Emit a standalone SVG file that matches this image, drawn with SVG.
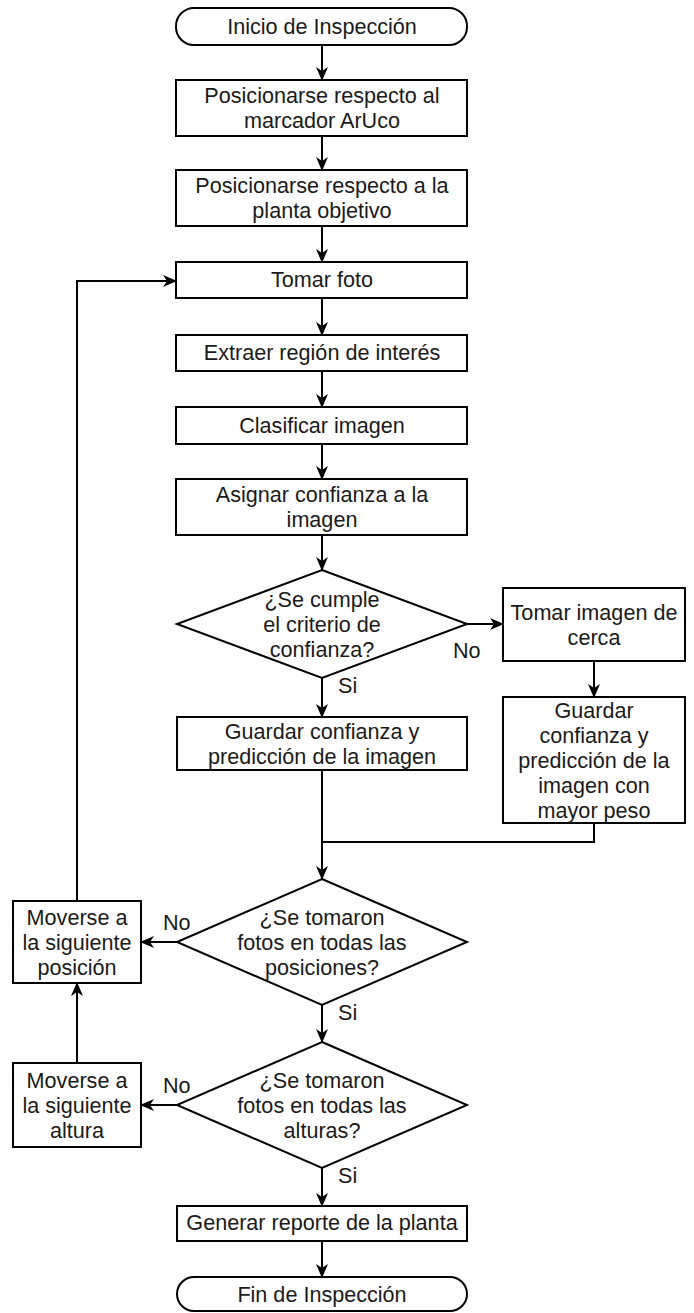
<svg xmlns="http://www.w3.org/2000/svg" width="694" height="1313" viewBox="0 0 694 1313">
<defs>
<style>
.n{fill:#fff;stroke:#000;stroke-width:2}
.t{font-family:"Liberation Sans",Arial,sans-serif;font-size:21.6px;fill:#1a1a1a;text-anchor:middle}
.l{font-family:"Liberation Sans",Arial,sans-serif;font-size:21.6px;fill:#1a1a1a;text-anchor:start}
.c{fill:none;stroke:#000;stroke-width:2}
</style>
<marker id="ah" viewBox="0 0 14 12" refX="13" refY="6" markerWidth="14" markerHeight="12" markerUnits="userSpaceOnUse" orient="auto">
<path d="M0,0 L14,6 L0,12 L4,6 Z" fill="#000"/>
</marker>
</defs>
<rect width="694" height="1313" fill="#fff"/>
<g id="connectors">
<line class="c" x1="322" y1="45" x2="322" y2="80" marker-end="url(#ah)"/>
<line class="c" x1="322" y1="136" x2="322" y2="170" marker-end="url(#ah)"/>
<line class="c" x1="322" y1="226" x2="322" y2="262" marker-end="url(#ah)"/>
<line class="c" x1="322" y1="298" x2="322" y2="335" marker-end="url(#ah)"/>
<line class="c" x1="322" y1="371" x2="322" y2="407" marker-end="url(#ah)"/>
<line class="c" x1="322" y1="444" x2="322" y2="479" marker-end="url(#ah)"/>
<line class="c" x1="322" y1="535" x2="322" y2="570" marker-end="url(#ah)"/>
<line class="c" x1="467" y1="624" x2="503" y2="624" marker-end="url(#ah)"/>
<line class="c" x1="322" y1="678" x2="322" y2="717" marker-end="url(#ah)"/>
<line class="c" x1="594" y1="661" x2="594" y2="697" marker-end="url(#ah)"/>
<line class="c" x1="322" y1="770" x2="322" y2="879" marker-end="url(#ah)"/>
<polyline class="c" points="594,823 594,842 322,842"/>
<line class="c" x1="177" y1="942" x2="141" y2="942" marker-end="url(#ah)"/>
<polyline class="c" points="77,901 77,281 176,281" marker-end="url(#ah)"/>
<line class="c" x1="322" y1="1005" x2="322" y2="1042" marker-end="url(#ah)"/>
<line class="c" x1="177" y1="1105" x2="141" y2="1105" marker-end="url(#ah)"/>
<line class="c" x1="77" y1="1063" x2="77" y2="983" marker-end="url(#ah)"/>
<line class="c" x1="322" y1="1168" x2="322" y2="1206" marker-end="url(#ah)"/>
<line class="c" x1="322" y1="1241" x2="322" y2="1277" marker-end="url(#ah)"/>
<text class="l" x="453" y="658">No</text>
<text class="l" x="338" y="693">Si</text>
<text class="l" x="163" y="930">No</text>
<text class="l" x="338" y="1020">Si</text>
<text class="l" x="163" y="1093">No</text>
<text class="l" x="338" y="1183">Si</text>
</g>
<g id="start"><rect class="n" x="176" y="8" width="291" height="37" rx="18"/><text class="t" x="322" y="34">Inicio de Inspección</text></g>
<g id="aruco"><rect class="n" x="176" y="80" width="291" height="56"/><text class="t" x="322" y="103">Posicionarse respecto al</text><text class="t" x="322" y="128">marcador ArUco</text></g>
<g id="planta"><rect class="n" x="176" y="170" width="291" height="56"/><text class="t" x="322" y="193">Posicionarse respecto a la</text><text class="t" x="322" y="218">planta objetivo</text></g>
<g id="foto"><rect class="n" x="176" y="262" width="291" height="36"/><text class="t" x="322" y="287">Tomar foto</text></g>
<g id="roi"><rect class="n" x="176" y="335" width="291" height="36"/><text class="t" x="322" y="360">Extraer región de interés</text></g>
<g id="clasificar"><rect class="n" x="176" y="407" width="291" height="37"/><text class="t" x="322" y="432.5">Clasificar imagen</text></g>
<g id="asignar"><rect class="n" x="176" y="479" width="291" height="56"/><text class="t" x="322" y="502">Asignar confianza a la</text><text class="t" x="322" y="527">imagen</text></g>
<g id="criterio"><polygon class="n" points="322,570 467,624 322,678 177,624"/><text class="t" x="322" y="606.5">¿Se cumple</text><text class="t" x="322" y="631.5">el criterio de</text><text class="t" x="322" y="656.5">confianza?</text></g>
<g id="cerca"><rect class="n" x="503" y="588" width="182" height="73"/><text class="t" x="594" y="619.5">Tomar imagen de</text><text class="t" x="594" y="644.5">cerca</text></g>
<g id="guardar"><rect class="n" x="177" y="717" width="290" height="53"/><text class="t" x="322" y="738.5">Guardar confianza y</text><text class="t" x="322" y="763.5">predicción de la imagen</text></g>
<g id="guardar2"><rect class="n" x="503" y="697" width="182" height="126"/><text class="t" x="594" y="717.5">Guardar</text><text class="t" x="594" y="742.5">confianza y</text><text class="t" x="594" y="767.5">predicción de la</text><text class="t" x="594" y="792.5">imagen con</text><text class="t" x="594" y="817.5">mayor peso</text></g>
<g id="posiciones"><polygon class="n" points="322,879 467,942 322,1005 177,942"/><text class="t" x="322" y="924.5">¿Se tomaron</text><text class="t" x="322" y="949.5">fotos en todas las</text><text class="t" x="322" y="974.5">posiciones?</text></g>
<g id="movpos"><rect class="n" x="13" y="901" width="128" height="82"/><text class="t" x="77" y="924.5">Moverse a</text><text class="t" x="77" y="949.5">la siguiente</text><text class="t" x="77" y="974.5">posición</text></g>
<g id="alturas"><polygon class="n" points="322,1042 467,1105 322,1168 177,1105"/><text class="t" x="322" y="1087.5">¿Se tomaron</text><text class="t" x="322" y="1112.5">fotos en todas las</text><text class="t" x="322" y="1137.5">alturas?</text></g>
<g id="movalt"><rect class="n" x="13" y="1063" width="128" height="84"/><text class="t" x="77" y="1087.5">Moverse a</text><text class="t" x="77" y="1112.5">la siguiente</text><text class="t" x="77" y="1137.5">altura</text></g>
<g id="reporte"><rect class="n" x="177" y="1206" width="290" height="35"/><text class="t" x="322" y="1230">Generar reporte de la planta</text></g>
<g id="fin"><rect class="n" x="177" y="1277" width="290" height="34" rx="17"/><text class="t" x="322" y="1302">Fin de Inspección</text></g>
</svg>
